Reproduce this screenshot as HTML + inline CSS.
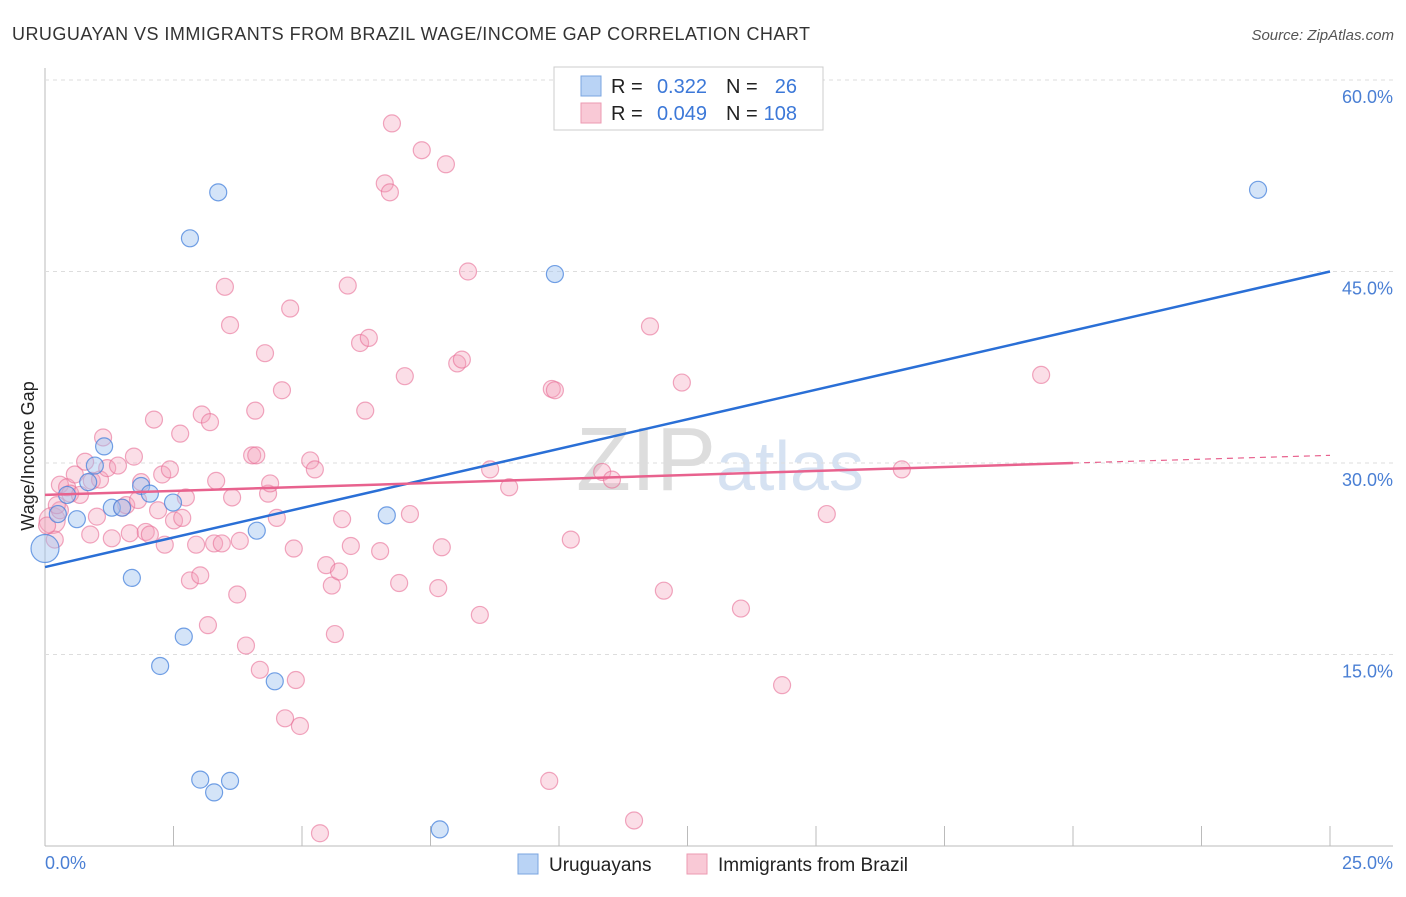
<!DOCTYPE html>
<html><head><meta charset="utf-8"><style>
body{margin:0;background:#fff;font-family:"Liberation Sans",sans-serif}
svg text{font-family:"Liberation Sans",sans-serif}
</style></head><body>
<svg id="c" width="1406" height="892" xmlns="http://www.w3.org/2000/svg">
<text x="12" y="40" font-size="18" fill="#333" textLength="798">URUGUAYAN VS IMMIGRANTS FROM BRAZIL WAGE/INCOME GAP CORRELATION CHART</text>
<text x="1394" y="40" font-size="15" fill="#555" text-anchor="end" font-style="italic">Source: ZipAtlas.com</text>
<text x="720" y="490" font-size="90" fill="#ddd" text-anchor="middle" font-family="Liberation Serif">ZIP<tspan fill="#d6e2f2" font-family="Liberation Sans" font-size="70">atlas</tspan></text>
<g id="grid"></g><g id="pts"></g><g id="lines"></g>
<text transform="translate(34,456) rotate(-90)" font-size="18" fill="#222" text-anchor="middle">Wage/Income Gap</text>
<text x="45" y="869" font-size="18" fill="#4a7fd4">0.0%</text>
<text x="1393" y="869" font-size="18" fill="#4a7fd4" text-anchor="end">25.0%</text>
<g>
<rect x="554" y="67" width="269" height="63" fill="#fff" stroke="#ccc"/>
<rect x="581" y="76" width="20" height="20" fill="#b9d3f5" stroke="#7aa5e0"/>
<rect x="581" y="103" width="20" height="20" fill="#f9c9d6" stroke="#ec9ab2"/>
<text x="611" y="93" font-size="20" fill="#222">R =</text>
<text x="707" y="93" font-size="20" fill="#3c78d8" text-anchor="end">0.322</text>
<text x="726" y="93" font-size="20" fill="#222">N =</text>
<text x="797" y="93" font-size="20" fill="#3c78d8" text-anchor="end">26</text>
<text x="611" y="120" font-size="20" fill="#222">R =</text>
<text x="707" y="120" font-size="20" fill="#3c78d8" text-anchor="end">0.049</text>
<text x="726" y="120" font-size="20" fill="#222">N =</text>
<text x="797" y="120" font-size="20" fill="#3c78d8" text-anchor="end">108</text>
</g>
<g>
<rect x="518" y="854" width="20" height="20" fill="#b9d3f5" stroke="#7aa5e0"/>
<text x="549" y="871" font-size="19" fill="#222">Uruguayans</text>
<rect x="687" y="854" width="20" height="20" fill="#f9c9d6" stroke="#ec9ab2"/>
<text x="718" y="871" font-size="19" fill="#222">Immigrants from Brazil</text>
</g>
</svg>
<script>
const yTicks=[15,30,45,60];
const yTickLabels=["15.0%","30.0%","45.0%","60.0%"];
const xTicks=[0,2.5,5,7.5,10,12.5,15,17.5,20,22.5,25];
const blueX=[0,0.25,0.43,0.62,0.84,0.97,1.15,1.3,1.5,1.69,1.87,2.04,2.24,2.49,2.7,2.82,3.02,3.29,3.37,3.6,4.12,4.47,6.65,7.68,9.92,23.6];
const blueY=[23.3,26.0,27.5,25.6,28.5,29.8,31.3,26.5,26.5,21.0,28.2,27.6,14.1,26.9,16.4,47.6,5.2,4.2,51.2,5.1,24.7,12.9,25.9,1.3,44.8,51.4];
const pinkX=[0.14,0.19,0.29,0.43,0.49,0.58,0.68,0.78,0.88,0.91,1.01,1.07,1.13,1.21,1.30,1.42,1.50,1.58,1.65,1.73,1.81,1.87,1.96,2.04,2.12,2.20,2.28,2.33,2.43,2.51,2.63,2.67,2.74,2.82,2.94,3.02,3.05,3.17,3.21,3.29,3.33,3.44,3.50,3.60,3.64,3.74,3.79,3.91,4.03,4.09,4.11,4.18,4.28,4.34,4.38,4.51,4.61,4.67,4.77,4.84,4.88,4.96,5.16,5.25,5.35,5.47,5.58,5.64,5.72,5.78,5.89,5.95,6.13,6.23,6.30,6.52,6.61,6.71,6.75,6.89,7.00,7.10,7.33,7.65,7.72,7.80,8.02,8.11,8.23,8.46,8.66,9.03,9.81,9.86,9.92,10.23,10.84,11.03,11.46,11.77,12.04,12.39,13.54,14.34,15.21,16.67,19.38,0.29,0.04,0.23];
const pinkY=[25.5,24.0,28.3,28.1,27.6,29.1,27.5,30.1,24.4,28.6,25.8,28.7,32.0,29.6,24.1,29.8,26.5,26.7,24.5,30.5,27.1,28.5,24.6,24.4,33.4,26.3,29.1,23.6,29.5,25.5,32.3,25.7,27.3,20.8,23.6,21.2,33.8,17.3,33.2,23.7,28.6,23.7,43.8,40.8,27.3,19.7,23.9,15.7,30.6,34.1,30.6,13.8,38.6,27.6,28.4,25.7,35.7,10.0,42.1,23.3,13.0,9.4,30.2,29.5,1.0,22.0,20.4,16.6,21.5,25.6,43.9,23.5,39.4,34.1,39.8,23.1,51.9,51.2,56.6,20.6,36.8,26.0,54.5,20.2,23.4,53.4,37.8,38.1,45.0,18.1,29.5,28.1,5.1,35.8,35.7,24.0,29.3,28.7,2.0,40.7,20.0,36.3,18.6,12.6,26.0,29.5,36.9,26.3,25.1,26.7];
const NS='http://www.w3.org/2000/svg';
const X0=45,X1=1330,Y0=846,Y60=80;
const sx=v=>X0+(X1-X0)*v/25, sy=v=>Y0-(Y0-Y60)*v/60;
function mk(t,a,p){const e=document.createElementNS(NS,t);for(const k in a)e.setAttribute(k,a[k]);p.appendChild(e);return e;}
const grid=document.getElementById('grid');
mk('line',{x1:X0,y1:68,x2:X0,y2:Y0,stroke:'#bbb'},grid);
mk('line',{x1:X0,y1:Y0,x2:1393,y2:Y0,stroke:'#bbb'},grid);
yTicks.forEach((t,i)=>{
 const g=mk('line',{x1:X0,x2:1393,y1:sy(t),y2:sy(t),stroke:'#ddd','stroke-dasharray':'4,4'},grid);
 
 
 const tx=mk('text',{x:1393,y:sy(t)+23,'font-size':18,fill:'#4a7fd4','text-anchor':'end'},grid);
 tx.textContent=yTickLabels[i];
 
 
});
xTicks.forEach(t=>{
 const l=mk('line',{x1:sx(t),x2:sx(t),y1:826,y2:Y0,stroke:'#bbb'},grid);
 
 
});
const pts=document.getElementById('pts');
pinkX.forEach((x,i)=>{
 const c=mk('circle',{cx:sx(x),cy:sy(pinkY[i]),r:i==0?13:8.5,fill:'rgba(244,160,185,0.35)',stroke:'rgba(232,110,150,0.6)','stroke-width':1.2},pts);
 
 
});
blueX.forEach((x,i)=>{
 const c=mk('circle',{cx:sx(x),cy:sy(blueY[i]),r:i==0?14:8.5,fill:'rgba(160,195,240,0.45)',stroke:'rgba(70,130,220,0.75)','stroke-width':1.2},pts);
 
 
});
const ln=document.getElementById('lines');
const bl=mk('line',{x1:sx(0),y1:sy(21.85),x2:sx(25),y2:sy(45),stroke:'#2a6fd6','stroke-width':2.5},ln);


const pl=mk('line',{x1:sx(0),y1:sy(27.5),x2:sx(20),y2:sy(30.0),stroke:'#e8628e','stroke-width':2.5},ln);


const pd=mk('line',{x1:sx(20),y1:sy(30.0),x2:sx(25),y2:sy(30.6),stroke:'#e8628e','stroke-width':1.2,'stroke-dasharray':'6,5'},ln);


</script>
</body></html>
